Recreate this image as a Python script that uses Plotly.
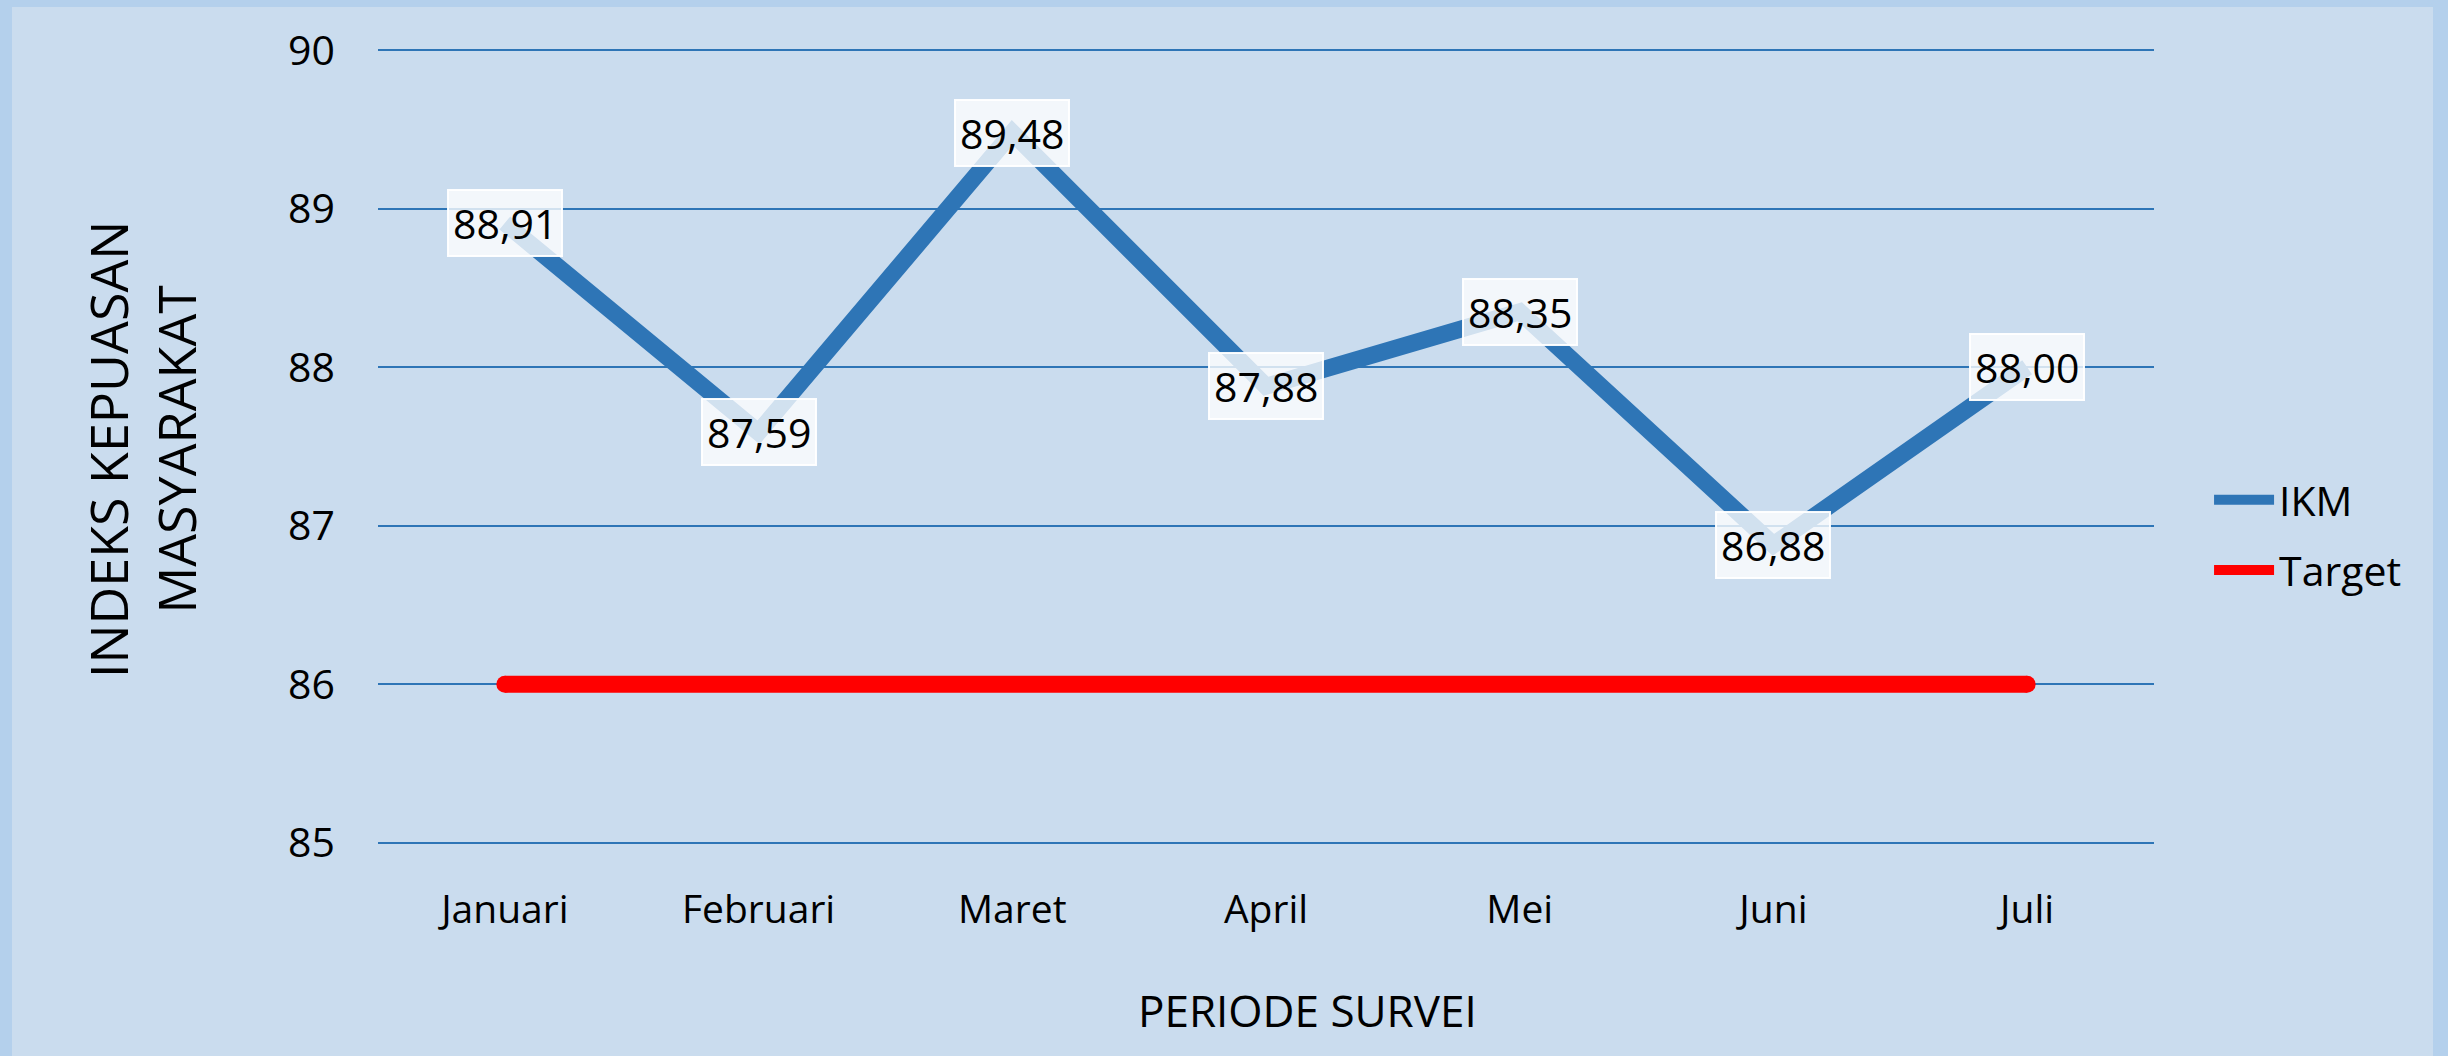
import plotly.graph_objects as go

months = ["Januari", "Februari", "Maret", "April", "Mei", "Juni", "Juli"]
ikm = [88.91, 87.59, 89.48, 87.88, 88.35, 86.88, 88.00]
target = [86, 86, 86, 86, 86, 86, 86]
y_ticks = [85, 86, 87, 88, 89, 90]

BLUE = "#2e75b6"
RED = "#ff0000"
FONT = "Open Sans"

fig = go.Figure()

fig.add_trace(go.Scatter(
    x=months, y=ikm, name="IKM", mode="lines",
    line=dict(color=BLUE, width=17), legendgroup="a"))
fig.add_trace(go.Scatter(
    x=months, y=target, name="Target", mode="lines",
    line=dict(color=RED, width=17), legendgroup="b"))
# round caps for target line ends
fig.add_trace(go.Scatter(
    x=[months[0], months[-1]], y=[target[0], target[-1]], mode="markers",
    marker=dict(color=RED, size=17, line=dict(width=0)),
    showlegend=False, hoverinfo="skip"))

for m, v in zip(months, ikm):
    fig.add_annotation(
        x=m, y=v, xref="x", yref="y", text=f"{v:.2f}".replace(".", ","),
        showarrow=False, xanchor="center", yanchor="middle",
        font=dict(family=FONT, size=41, color="black"),
        bgcolor="rgba(255,255,255,0.78)", bordercolor="rgba(255,255,255,0.95)",
        borderwidth=2, borderpad=4)

PH = 799.0  # plot height in px
fig.add_annotation(
    x=-0.1334, y=(846 - 449) / PH, xref="paper", yref="paper",
    text="INDEKS KEPUASAN<br>MASYARAKAT", textangle=-90,
    showarrow=False, xanchor="center", yanchor="middle",
    font=dict(family=FONT, size=52, color="black"))
fig.add_annotation(
    x=0.5236, y=(846 - 1010) / PH, xref="paper", yref="paper",
    text="PERIODE SURVEI", showarrow=False,
    xanchor="center", yanchor="middle",
    font=dict(family=FONT, size=44, color="black"))

# background panel
fig.add_shape(type="rect", xref="paper", yref="paper",
              x0=-366/1776, x1=(2433-378)/1776, y0=-220/PH, y1=(846-7)/PH,
              fillcolor="#cadcee", line=dict(width=0), layer="below")

fig.update_layout(
    width=2448, height=1056,
    margin=dict(l=378, r=294, t=47, b=210),
    paper_bgcolor="#b4d0ec",
    plot_bgcolor="rgba(0,0,0,0)",
    font=dict(family=FONT, color="black"),
    showlegend=True,
    legend=dict(x=1.031, y=(846 - 535) / PH, xanchor="left", yanchor="middle",
                bgcolor="rgba(0,0,0,0)", font=dict(family=FONT, size=41),
                traceorder="grouped", tracegroupgap=14, itemwidth=60),
    xaxis=dict(range=[-0.5, 6.5], showgrid=False, zeroline=False,
               showline=False, ticks="", tickfont=dict(family=FONT, size=39),
               ticklabelstandoff=37),
    yaxis=dict(range=[84.98, 90.02], tickvals=y_ticks, showgrid=True,
               gridcolor=BLUE, gridwidth=2, zeroline=False, showline=False,
               ticks="", tickfont=dict(family=FONT, size=41),
               ticklabelstandoff=42),
)

fig.write_html(
    "out.html",
    config={"displayModeBar": False},
    post_script="document.body.style.margin='0';document.body.style.overflow='hidden';"
                "document.body.style.background='#b4d0ec';")
